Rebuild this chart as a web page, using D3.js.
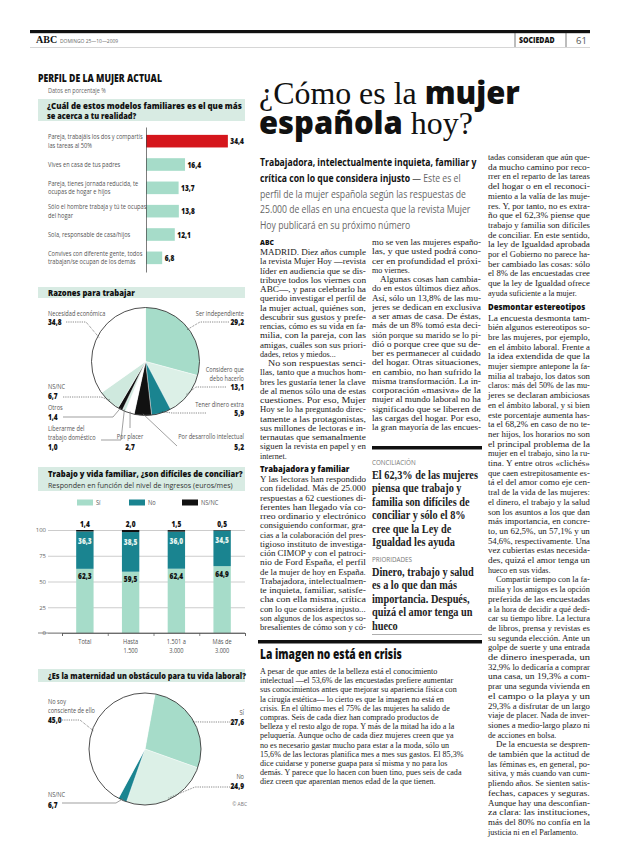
<!DOCTYPE html>
<html><head><meta charset="utf-8">
<script src="https://cdn.jsdelivr.net/npm/d3@7"></script>
<style>body{margin:0;background:#fff}svg{display:block}</style>
</head><body>
<svg id="c" width="620" height="847"></svg>
<script>
// ---------------- DATA ----------------
const familyModels = [
  ["Pareja, trabajáis los dos y compartís", "las tareas al 50%"],
  ["Vives en casa de tus padres"],
  ["Pareja, tienes jornada reducida, te", "ocupas de hogar e hijos"],
  ["Sólo el hombre trabaja y tú te ocupas", "del hogar"],
  ["Sola, responsable de casa/hijos"],
  ["Convives con diferente gente, todos", "trabajan/se ocupan de los demás"]
];
const familyValues = [34.4, 16.4, 13.7, 13.8, 12.1, 6.8];

const reasonLabels = [
  ["Ser independiente"], ["Considero que", "debo hacerlo"], ["Tener dinero extra"],
  ["Por desarrollo intelectual"], ["Por placer"], ["Liberarme del", "trabajo doméstico"],
  ["Otros"], ["NS/NC"], ["Necesidad económica"]
];
const reasonValues = [29.2, 13.1, 5.9, 5.2, 2.7, 1.0, 1.4, 6.7, 34.8];

const incomeGroups = [["Total"], ["Hasta", "1.500"], ["1.501 a", "3.000"], ["Más de", "3.000"]];
const siValues = [62.3, 59.5, 62.4, 64.9];
const noValues = [36.3, 38.5, 36.0, 34.5];
const nsncValues = [1.4, 2.0, 1.5, 0.5];
const stackKeys = ["Sí", "No", "NS/NC"];
const yTicks = [0, 25, 50, 75, 100];

const maternityLabels = [["Sí"], ["No"], ["NS/NC"], ["No soy", "consciente de ello"]];
const maternityValues = [27.6, 24.9, 2.5, 45.0];
const maternityPrinted = ["27,6", "24,9", "6,7", "45,0"];

// ---------------- TEXT ----------------
const col1Lines = [
  "MADRID. Diez años cumple", "la revista Mujer Hoy —revista", "líder en audiencia que se dis-",
  "tribuye todos los viernes con", "ABC—, y para celebrarlo ha", "querido investigar el perfil de",
  "la mujer actual, quiénes son,", "descubrir sus gustos y prefe-", "rencias, cómo es su vida en fa-",
  "milia, con la pareja, con las", "amigas, cuáles son sus priori-", "dades, retos y miedos...$",
  "^No son respuestas senci-", "llas, tanto que a muchos hom-", "bres les gustaría tener la clave",
  "de al menos sólo una de estas", "cuestiones. Por eso, Mujer", "Hoy se lo ha preguntado direc-",
  "tamente a las protagonistas,", "sus millones de lectoras e in-", "ternautas que semanalmente",
  "siguen la revista en papel y en", "internet.$",
  "#Trabajadora y familiar",
  "Y las lectoras han respondido", "con fidelidad. Más de 25.000", "respuestas a 62 cuestiones di-",
  "ferentes han llegado vía co-", "rreo ordinario y electrónico", "consiguiendo conformar, gra-",
  "cias a la colaboración del pres-", "tigioso instituto de investiga-", "ción CIMOP y con el patroci-",
  "nio de Ford España, el perfil", "de la mujer de hoy en España.", "Trabajadora, intelectualmen-",
  "te inquieta, familiar, satisfe-", "cha con ella misma, crítica", "con lo que considera injusto...",
  "son algunos de los aspectos so-", "bresalientes de cómo son y có-"
];
const col2Lines = [
  "mo se ven las mujeres españo-", "las, y que usted podrá cono-", "cer en profundidad el próxi-",
  "mo viernes.$", "^Algunas cosas han cambia-", "do en estos últimos diez años.",
  "Así, sólo un 13,8% de las mu-", "jeres se dedican en exclusiva", "a ser amas de casa. De éstas,",
  "más de un 8% tomó esta deci-", "sión porque su marido se lo pi-", "dió o porque cree que su de-",
  "ber es permanecer al cuidado", "del hogar. Otras situaciones,", "en cambio, no han sufrido la",
  "misma transformación. La in-", "corporación «masiva» de la", "mujer al mundo laboral no ha",
  "significado que se liberen de", "las cargas del hogar. Por eso,", "la gran mayoría de las encues-"
];
const col3Lines = [
  "tadas consideran que aún que-", "da mucho camino por reco-", "rrer en el reparto de las tareas",
  "del hogar o en el reconoci-", "miento a la valía de las muje-", "res. Y, por tanto, no es extra-",
  "ño que el 62,3% piense que", "trabajo y familia son difíciles", "de conciliar. En este sentido,",
  "la ley de Igualdad aprobada", "por el Gobierno no parece ha-", "ber cambiado las cosas: sólo",
  "el 8% de las encuestadas cree", "que la ley de Igualdad ofrece", "ayuda suficiente a la mujer.$",
  "#Desmontar estereotipos",
  "La encuesta desmonta tam-", "bién algunos estereotipos so-", "bre las mujeres, por ejemplo,",
  "en el ámbito laboral. Frente a", "la idea extendida de que la", "mujer siempre antepone la fa-",
  "milia al trabajo, los datos son", "claros: más del 50% de las mu-", "jeres se declaran ambiciosas",
  "en el ámbito laboral, y si bien", "este porcentaje aumenta has-", "ta el 68,2% en caso de no te-",
  "ner hijos, los horarios no son", "el principal problema de la", "mujer en el trabajo, sino la ru-",
  "tina. Y entre otros «clichés»", "que caen estrepitosamente es-", "tá el del amor como eje cen-",
  "tral de la vida de las mujeres:", "el dinero, el trabajo y la salud", "son los asuntos a los que dan",
  "más importancia, en concre-", "to, un 62,5%, un 57,1% y un", "54,6%, respectivamente. Una",
  "vez cubiertas estas necesida-", "des, quizá el amor tenga un", "hueco en sus vidas.$",
  "^Compartir tiempo con la fa-", "milia y los amigos es la opción", "preferida de las encuestadas",
  "a la hora de decidir a qué dedi-", "car su tiempo libre. La lectura", "de libros, prensa y revistas es",
  "su segunda elección. Ante un", "golpe de suerte y una entrada", "de dinero inesperada, un",
  "32,9% lo dedicaría a comprar", "una casa, un 19,3% a com-", "prar una segunda vivienda en",
  "el campo o la playa y un", "29,3% a disfrutar de un largo", "viaje de placer. Nada de inver-",
  "siones a medio-largo plazo ni", "de acciones en bolsa.$",
  "^De la encuesta se despren-", "de también que la actitud de", "las féminas es, en general, po-",
  "sitiva, y más cuando van cum-", "pliendo años. Se sienten satis-", "fechas, capaces y seguras.",
  "Aunque hay una desconfian-", "za clara: las instituciones,", "más del 80% no confía en la",
  "justicia ni en el Parlamento.$"
];
const sectionLines = [
  "A pesar de que antes de la belleza está el conocimiento",
  "intelectual —el 53,6% de las encuestadas prefiere aumentar",
  "sus conocimientos antes que mejorar su apariencia física con",
  "la cirugía estética— lo cierto es que la imagen no está en",
  "crisis. En el último mes el 75% de las mujeres ha salido de",
  "compras. Seis de cada diez han comprado productos de",
  "belleza y el resto algo de ropa. Y más de la mitad ha ido a la",
  "peluquería. Aunque ocho de cada diez mujeres creen que ya",
  "no es necesario gastar mucho para estar a la moda, sólo un",
  "15,6% de las lectoras planifica mes a mes sus gastos. El 85,3%",
  "dice cuidarse y ponerse guapa para sí misma y no para los",
  "demás. Y parece que lo hacen con buen tino, pues seis de cada",
  "diez creen que aparentan menos edad de la que tienen."
];
const quote1 = ["El 62,3% de las mujeres", "piensa que trabajo y", "familia son difíciles de", "conciliar y sólo el 8%", "cree que la Ley de", "Igualdad les ayuda"];
const quote2 = ["Dinero, trabajo y salud", "es a lo que dan más", "importancia. Después,", "quizá el amor tenga un", "hueco"];

// ---------------- STYLE ----------------
const SANS = "'Open Sans','Noto Sans',sans-serif";
const SERIF = "'Liberation Serif','DejaVu Serif',serif";
const MINT = "#a6dcc9", LIGHT = "#dcf0e7", LIGHT2 = "#cfe9de", TEAL = "#1a8490", RED = "#d5161c", BAND = "#d8ebe3";
const fmt = v => d3.format(".1f")(v).replace(".", ",");

const svg = d3.select("#c");

// text with horizontal condensing done through a transform
function txt(p, x, y, s, o = {}) {
  const t = p.append("text").attr("x", 0).attr("y", 0)
    .attr("font-family", o.ff || SANS).attr("font-size", o.fs || 7)
    .attr("font-weight", o.fw || 400).attr("fill", o.fill || "#444")
    .attr("text-anchor", o.anchor || "start").text(s);
  const L = t.node().getComputedTextLength();
  let k = o.sx || 1;
  if (o.w && o.justify) k = o.w / L;
  else if (o.w) k = Math.min(k, o.w / L);
  t.attr("transform", `translate(${x},${y}) scale(${k.toFixed(4)},1)`);
  return t;
}
function scaleText(t, x, y, k) { t.attr("x", 0).attr("y", 0).attr("transform", `translate(${x},${y}) scale(${k.toFixed(4)},1)`); }

// ---------------- HEADER ----------------
svg.append("rect").attr("x", 30).attr("y", 30).attr("width", 560).attr("height", 3.2).attr("fill", "#111");
svg.append("line").attr("x1", 30).attr("x2", 590).attr("y1", 47.5).attr("y2", 47.5).attr("stroke", "#bbb").attr("stroke-width", 0.6);
txt(svg, 36, 43, "ABC", {ff: SERIF, fs: 10, fw: 700, fill: "#111"});
txt(svg, 60, 42.5, "DOMINGO 25—10—2009", {fs: 5.5, fill: "#666", sx: 0.9});
svg.append("line").attr("x1", 515).attr("x2", 515).attr("y1", 33).attr("y2", 47).attr("stroke", "#444").attr("stroke-width", 0.7);
svg.append("line").attr("x1", 566).attr("x2", 566).attr("y1", 33).attr("y2", 47).attr("stroke", "#444").attr("stroke-width", 0.7);
txt(svg, 519, 43, "SOCIEDAD", {fs: 8.5, fw: 800, fill: "#111", sx: 0.82});
txt(svg, 576, 43.5, "61", {fs: 9.5, fill: "#555"});

// ---------------- LEFT COLUMN: titles ----------------
txt(svg, 38, 81.5, "PERFIL DE LA MUJER ACTUAL", {fs: 10, fw: 800, fill: "#111", w: 124, justify: true});
txt(svg, 48, 92.5, "Datos en porcentaje %", {fs: 6.5, fill: "#666", sx: 0.85});
function band(y, h) { svg.append("rect").attr("x", 38).attr("y", y).attr("width", 207).attr("height", h).attr("fill", BAND); }
band(99, 22);
txt(svg, 47, 108.5, "¿Cuál de estos modelos familiares es el que más", {fs: 9, fw: 800, fill: "#111", w: 195, justify: true});
txt(svg, 47, 118.5, "se acerca a tu realidad?", {fs: 9, fw: 800, fill: "#111", sx: 0.82});

// ---------------- BAR CHART ----------------
const gBar = svg.append("g");
const yBar = d3.scaleBand().domain(familyValues.map((d, i) => i)).range([129.5, 269.5]).paddingInner(0.46).paddingOuter(0.23);
const xBar = d3.scaleLinear().domain([0, 40]).range([146, 241.2]);
gBar.selectAll("rect.bar").data(familyValues).join("rect").attr("class", "bar")
  .attr("x", xBar(0)).attr("y", (d, i) => yBar(i)).attr("height", yBar.bandwidth())
  .attr("width", d => xBar(d) - xBar(0)).attr("fill", (d, i) => i === 0 ? RED : MINT);
familyValues.forEach((v, i) => {
  const cy = yBar(i) + yBar.bandwidth() / 2;
  txt(gBar, xBar(v) + 2.5, cy + 3, fmt(v), {fs: 8, fw: 800, fill: "#111", sx: 0.82});
  const lines = familyModels[i];
  lines.forEach((l, j) => {
    const y = lines.length === 1 ? cy + 2.5 : cy - 2 + j * 8.5;
    txt(gBar, 48, y, l, {fs: 6.6, fill: "#555", sx: 0.86});
  });
});
const axBar = gBar.append("g").attr("transform", `translate(${xBar(0)},0)`)
  .call(d3.axisLeft(d3.scaleLinear().range([127, 272])).ticks(0).tickSizeOuter(0));
axBar.select(".domain").attr("stroke", "#444").attr("stroke-width", 0.7);

// ---------------- PIE 1 ----------------
band(287, 11);
txt(svg, 48, 295.8, "Razones para trabajar", {fs: 9, fw: 800, fill: "#111", sx: 0.85});
const reasonColors = [MINT, LIGHT, TEAL, "#111", "#fff", LIGHT2, "#111", LIGHT2, "#fff"];
const reasonLayout = [
  {x: 244, y: 316, a: "end", lh: 9.3, lead: [[229, 322], [200, 322]], dot: true},
  {x: 244, y: 372, a: "end", lh: 9.2, lead: [[226, 387], [196, 387]], dot: true},
  {x: 244, y: 406.5, a: "end", lh: 9.5, lead: [[206, 413], [172, 413]], dot: true},
  {x: 244, y: 439, a: "end", lh: 10.5, lead: [[177, 446]], dot: false},
  {x: 130, y: 439, a: "middle", lh: 10.5, lead: [[130, 428]], dot: false},
  {x: 48, y: 430.5, a: "start", lh: 9.6, lead: [[101, 440], [121, 440]], dot: false},
  {x: 48, y: 410, a: "start", lh: 9.5, lead: [[63, 417], [113, 417]], dot: false},
  {x: 48, y: 389, a: "start", lh: 9.5, lead: [[63, 397], [101, 397]], dot: true},
  {x: 48, y: 316, a: "start", lh: 9.3, lead: [[66, 322], [86, 322]], dot: true}
];
function drawPie(cx, cy, r, values, colors, labels, printed, layout, startAngle) {
  const g = svg.append("g");
  const pie = d3.pie().sort(null).value(d => d).startAngle(startAngle).endAngle(startAngle + 2 * Math.PI);
  const arcs = pie(values);
  const arc = d3.arc().innerRadius(0).outerRadius(r);
  g.append("g").attr("transform", `translate(${cx},${cy})`).selectAll("path").data(arcs).join("path")
    .attr("d", arc).attr("fill", (d, i) => colors[i]).attr("stroke", "#fff").attr("stroke-width", 0.4);
  g.append("circle").attr("cx", cx).attr("cy", cy).attr("r", r).attr("fill", "none").attr("stroke", "#222").attr("stroke-width", 0.8);
  arcs.forEach((a, i) => {
    const L = layout[i];
    const m = (a.startAngle + a.endAngle) / 2;
    const end = [cx + r * 0.97 * Math.sin(m), cy - r * 0.97 * Math.cos(m)];
    const pts = L.lead.concat([end]);
    g.append("path").attr("d", d3.line()(pts)).attr("fill", "none")
      .attr("stroke", L.dot ? "#333" : "#777").attr("stroke-width", 0.7)
      .attr("stroke-dasharray", L.dot ? "0.8,1" : null);
    const lines = labels[i];
    lines.forEach((l, j) => txt(g, L.x, L.y + j * L.lh, l, {fs: 6.4, fill: "#555", anchor: L.a, sx: 0.88}));
    txt(g, L.x, L.y + lines.length * L.lh, printed ? printed[i] : fmt(values[i]), {fs: 8, fw: 800, fill: "#111", anchor: L.a, sx: 0.82});
  });
  return g;
}
drawPie(145.5, 361.5, 54, reasonValues, reasonColors, reasonLabels, null, reasonLayout, 0);

// ---------------- STACKED BARS ----------------
band(467, 24);
txt(svg, 48, 476.5, "Trabajo y vida familiar, ¿son difíciles de conciliar?", {fs: 9, fw: 800, fill: "#111", w: 195, justify: true});
txt(svg, 48, 487.5, "Responden en función del nivel de ingresos (euros/mes)", {fs: 8, fill: "#333", w: 185, justify: true});
const stackColors = [MINT, TEAL, "#111"];
const legX = [77, 129, 182];
stackKeys.forEach((k, i) => {
  svg.append("rect").attr("x", legX[i]).attr("y", 499.5).attr("width", 16).attr("height", 6).attr("fill", stackColors[i]);
  txt(svg, legX[i] + 19, 505, k, {fs: 6.6, fill: "#555", sx: 0.86});
});
const gS = svg.append("g");
const yS = d3.scaleLinear().domain([0, 100]).range([633, 530]);
const xS = d3.scaleBand().domain(incomeGroups.map((d, i) => i)).range([62, 245]).paddingInner(0.62).paddingOuter(0.31);
const axS = gS.append("g").attr("transform", "translate(48,0)")
  .call(d3.axisLeft(yS).tickValues(yTicks).tickSize(-197).tickPadding(2).tickFormat(d3.format("d")));
axS.select(".domain").remove();
axS.selectAll(".tick line").attr("stroke", "#999").attr("stroke-width", 0.5);
axS.selectAll(".tick text").attr("font-family", SANS).attr("font-size", 6).attr("fill", "#666");
const rows = incomeGroups.map((g, i) => ({"Sí": siValues[i], "No": noValues[i], "NS/NC": nsncValues[i]}));
const series = d3.stack().keys(stackKeys)(rows);
series.forEach((s, k) => {
  gS.selectAll("rect.s" + k).data(s).join("rect").attr("class", "s" + k)
    .attr("x", (d, i) => xS(i)).attr("width", xS.bandwidth())
    .attr("y", d => yS(d[1])).attr("height", d => yS(d[0]) - yS(d[1])).attr("fill", stackColors[k]);
});
gS.append("line").attr("x1", 38).attr("x2", 245).attr("y1", yS(0)).attr("y2", yS(0)).attr("stroke", "#555").attr("stroke-width", 0.7);
const axB = gS.append("g").attr("transform", `translate(0,${yS(0)})`)
  .call(d3.axisBottom(d3.scaleLinear().domain([0, 4]).range([62, 245])).ticks(4).tickSize(3).tickFormat(""));
axB.select(".domain").attr("stroke", "#555").attr("stroke-width", 0.7);
axB.selectAll(".tick line").attr("stroke", "#555").attr("stroke-width", 0.7);
rows.forEach((r, i) => {
  const cx = xS(i) + xS.bandwidth() / 2;
  const total = r["Sí"] + r["No"] + r["NS/NC"];
  txt(gS, cx, yS(total) - 3.5, fmt(r["NS/NC"]), {fs: 8, fw: 800, fill: "#111", anchor: "middle", sx: 0.82});
  txt(gS, cx, yS(r["Sí"] + r["No"]) + 12.5, fmt(r["No"]), {fs: 8, fw: 800, fill: "#e8f6f1", anchor: "middle", sx: 0.82});
  txt(gS, cx, yS(r["Sí"]) + 10.5, fmt(r["Sí"]), {fs: 8, fw: 800, fill: "#111", anchor: "middle", sx: 0.82});
  incomeGroups[i].forEach((l, j) => txt(gS, cx, 644 + j * 8.8, l, {fs: 6.6, fill: "#555", anchor: "middle", sx: 0.86}));
});

// ---------------- PIE 2 ----------------
band(669, 13);
txt(svg, 48, 678.5, "¿Es la maternidad un obstáculo para tu vida laboral?", {fs: 9, fw: 800, fill: "#111", w: 198, justify: true});
const matColors = [MINT, LIGHT, TEAL, "#fff"];
const matLayout = [
  {x: 244, y: 714.5, a: "end", lh: 10, lead: [[235, 722], [205, 722]], dot: true},
  {x: 244, y: 778.5, a: "end", lh: 10, lead: [[237, 787], [195, 787]], dot: true},
  {x: 48, y: 796.5, a: "start", lh: 11.5, lead: [[62, 803], [116, 803]], dot: false},
  {x: 48, y: 703.5, a: "start", lh: 9.5, lead: [[62, 720], [80, 720]], dot: true}
];
drawPie(145, 749, 56, maternityValues, matColors, maternityLabels, maternityPrinted, matLayout, 0.18);
txt(svg, 247, 806, "© ABC", {fs: 5.5, fill: "#777", anchor: "end", sx: 0.9});

// ---------------- HEADLINE ----------------
const h1 = svg.append("text").attr("fill", "#111");
h1.append("tspan").attr("font-family", SERIF).attr("font-size", 32).text("¿Cómo es la ");
h1.append("tspan").attr("font-family", SANS).attr("font-weight", 800).attr("font-size", 31).text("mujer");
const h2 = svg.append("text").attr("fill", "#111");
h2.append("tspan").attr("font-family", SANS).attr("font-weight", 800).attr("font-size", 31).text("española");
h2.append("tspan").attr("font-family", SERIF).attr("font-size", 32).text(" hoy?");
const k1 = 261 / h1.node().getComputedTextLength();
scaleText(h1, 259, 104, k1);
scaleText(h2, 259, 134, k1);

// deck
const deck = [
  [["Trabajadora, intelectualmente inquieta, familiar y", 700, "#111"]],
  [["crítica con lo que considera injusto", 700, "#111"], [" — Este es el", 400, "#666"]],
  [["perfil de la mujer española según las respuestas de", 400, "#666"]],
  [["25.000 de ellas en una encuesta que la revista Mujer", 400, "#666"]],
  [["Hoy publicará en su próximo número", 400, "#666"]]
];
let dk = 1;
deck.forEach((parts, i) => {
  const t = svg.append("text").attr("font-family", SANS).attr("font-size", 11);
  parts.forEach(p => t.append("tspan").attr("font-weight", p[1]).attr("fill", p[2]).text(p[0]));
  const L = t.node().getComputedTextLength();
  if (i === 0) dk = 217 / L;
  scaleText(t, 260, 166 + i * 15.8, dk);
});

// ---------------- COLUMNS ----------------
function column(lines, x, w, y0, lh) {
  let y = y0;
  lines.forEach((raw) => {
    if (raw.startsWith("#")) {
      y += lh * 0.5;
      txt(svg, x, y, raw.slice(1), {fs: 9.5, fw: 800, fill: "#111", sx: 0.82});
      y += lh * 1.05;
      return;
    }
    let s = raw, indent = 0, last = false;
    if (s.startsWith("^")) { indent = 8; s = s.slice(1); }
    if (s.endsWith("$")) { last = true; s = s.slice(0, -1); }
    txt(svg, x + indent, y, s, {ff: SERIF, fs: 9, fill: "#1a1a1a", w: w - indent, justify: !last, sx: 0.9});
    y += lh;
  });
  return y;
}
txt(svg, 260, 245, "ABC", {fs: 7.5, fw: 800, fill: "#111", sx: 0.9});
column(col1Lines, 260, 106, 255, 9.25);
column(col2Lines, 372, 109, 245, 9.25);
column(col3Lines, 488, 102, 160, 9.7);

// sidebar
svg.append("rect").attr("x", 372).attr("y", 446).attr("width", 110).attr("height", 3.5).attr("fill", "#111");
txt(svg, 372, 464.5, "CONCILIACIÓN", {fs: 7, fill: "#777", sx: 0.9});
let qk = 1;
quote1.forEach((l, i) => {
  const t = svg.append("text").attr("font-family", SERIF).attr("font-size", 13).attr("font-weight", 700).attr("fill", "#222").text(l);
  const L = t.node().getComputedTextLength();
  if (i === 0) qk = 106 / L;
  scaleText(t, 372, 479 + i * 13.4, qk);
});
txt(svg, 372, 562, "PRIORIDADES", {fs: 7, fill: "#777", sx: 0.9});
quote2.forEach((l, i) => {
  const t = svg.append("text").attr("font-family", SERIF).attr("font-size", 13).attr("font-weight", 700).attr("fill", "#222").text(l);
  scaleText(t, 372, 576 + i * 13.4, qk);
});
svg.append("line").attr("x1", 372).attr("x2", 482).attr("y1", 634.5).attr("y2", 634.5).attr("stroke", "#999").attr("stroke-width", 0.8);

// section
svg.append("rect").attr("x", 258).attr("y", 640).attr("width", 224).attr("height", 3.5).attr("fill", "#111");
txt(svg, 260, 659, "La imagen no está en crisis", {fs: 14, fw: 800, fill: "#111", w: 142, justify: true});
sectionLines.forEach((l, i) => txt(svg, 260, 674 + i * 9.2, l, {ff: SERIF, fs: 9, fill: "#1a1a1a", w: 220, sx: 0.9}));
</script>
</body></html>
